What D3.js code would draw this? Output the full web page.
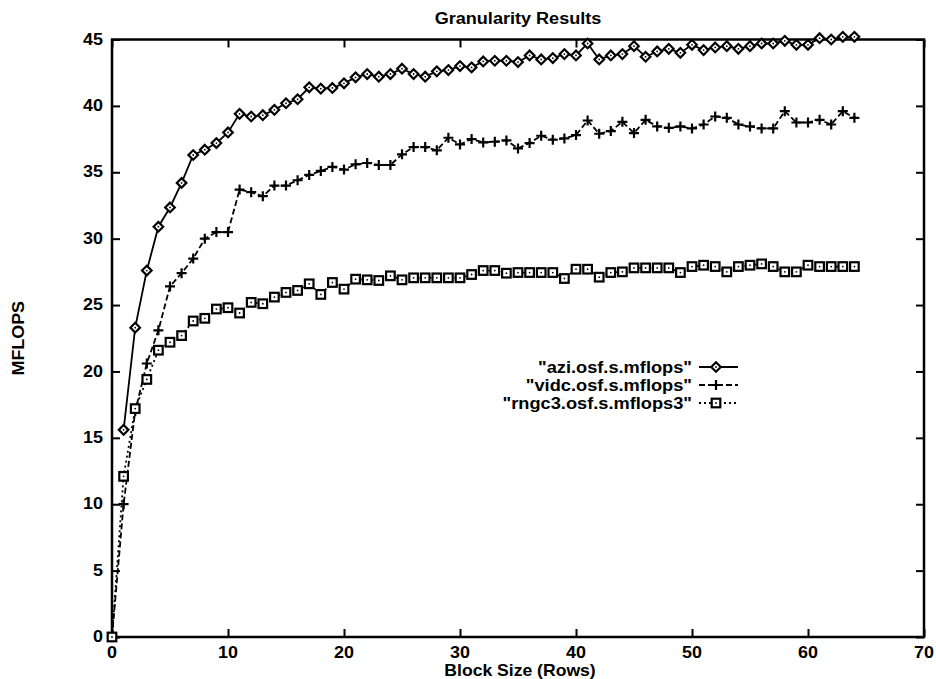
<!DOCTYPE html>
<html><head><meta charset="utf-8">
<script src="https://cdn.jsdelivr.net/npm/d3@7/dist/d3.min.js"></script>
<style>
html,body{margin:0;padding:0;background:#fff;}
svg{display:block;}
text{font-family:"Liberation Sans",Arial,Helvetica,sans-serif;font-weight:bold;fill:#000;}
</style></head>
<body>
<svg id="chart" width="936" height="679"></svg>
<script>
const blockSize = [0,1,2,3,4,5,6,7,8,9,10,11,12,13,14,15,16,17,18,19,20,21,22,23,24,25,26,27,28,29,30,31,32,33,34,35,36,37,38,39,40,41,42,43,44,45,46,47,48,49,50,51,52,53,54,55,56,57,58,59,60,61,62,63,64];
const azi = [null,15.6,23.3,27.6,30.9,32.35,34.2,36.3,36.7,37.2,38.0,39.4,39.2,39.3,39.7,40.2,40.5,41.4,41.3,41.35,41.7,42.15,42.4,42.2,42.4,42.8,42.4,42.2,42.6,42.7,43.0,42.9,43.35,43.4,43.4,43.3,43.8,43.5,43.6,43.9,43.8,44.7,43.5,43.8,43.9,44.5,43.7,44.1,44.3,44.0,44.6,44.2,44.4,44.5,44.3,44.5,44.7,44.7,44.9,44.6,44.6,45.1,45.0,45.2,45.2];
const vidc = [0,10.0,17.0,20.6,23.1,26.4,27.4,28.5,30.0,30.5,30.5,33.7,33.5,33.2,34.0,34.0,34.4,34.8,35.1,35.4,35.2,35.6,35.7,35.55,35.55,36.35,36.9,36.9,36.65,37.6,37.1,37.5,37.25,37.3,37.4,36.8,37.2,37.75,37.45,37.55,37.8,38.9,37.9,38.1,38.8,37.95,38.95,38.45,38.35,38.45,38.3,38.6,39.2,39.1,38.6,38.45,38.3,38.3,39.6,38.75,38.75,38.95,38.6,39.6,39.1];
const rngc3 = [0,12.1,17.2,19.4,21.6,22.2,22.7,23.8,24.0,24.7,24.8,24.4,25.2,25.1,25.6,25.95,26.1,26.6,25.8,26.7,26.2,26.95,26.9,26.85,27.2,26.9,27.05,27.05,27.05,27.05,27.05,27.3,27.6,27.6,27.4,27.45,27.45,27.45,27.45,27.0,27.7,27.7,27.1,27.45,27.5,27.8,27.8,27.8,27.8,27.45,27.9,28.0,27.9,27.5,27.9,28.0,28.1,27.9,27.5,27.5,28.0,27.9,27.9,27.9,27.9];
const seriesNames = ['"azi.osf.s.mflops"','"vidc.osf.s.mflops"','"rngc3.osf.s.mflops3"'];
const xTicks = [0,10,20,30,40,50,60,70];
const yTicks = [0,5,10,15,20,25,30,35,40,45];
const title = "Granularity Results";
const xLabel = "Block Size (Rows)";
const yLabel = "MFLOPS";

const svg = d3.select("#chart");
const L = 112, R = 924, T = 39.5, B = 637;
const x = d3.scaleLinear().domain([0,70]).range([L,R]);
const y = d3.scaleLinear().domain([0,45]).range([B,T]);

function txt(px, py, s, anchor, size, sx, rot) {
  const g = svg.append("g").attr("transform", `translate(${px},${py})` + (rot ? ` rotate(${rot})` : "") + ` scale(${sx},1)`);
  g.append("text").attr("text-anchor", anchor).attr("dominant-baseline", "central")
    .style("font-size", size + "px").text(s);
  return g;
}

// axes with inward ticks on all sides
const tl = 8;
svg.append("g").attr("transform", `translate(0,${B})`)
  .call(d3.axisBottom(x).tickValues(xTicks).tickSize(-tl).tickFormat(""))
  .call(g => g.select(".domain").remove());
svg.append("g").attr("transform", `translate(0,${T})`)
  .call(d3.axisTop(x).tickValues(xTicks).tickSize(-tl).tickFormat(""))
  .call(g => g.select(".domain").remove());
svg.append("g").attr("transform", `translate(${L},0)`)
  .call(d3.axisLeft(y).tickValues(yTicks).tickSize(-tl).tickFormat(""))
  .call(g => g.select(".domain").remove());
svg.append("g").attr("transform", `translate(${R},0)`)
  .call(d3.axisRight(y).tickValues(yTicks).tickSize(-tl).tickFormat(""))
  .call(g => g.select(".domain").remove());
svg.selectAll(".tick line").attr("stroke", "#000").attr("stroke-width", 2);

// frame
svg.append("rect").attr("x", L).attr("y", T).attr("width", R - L).attr("height", B - T)
  .attr("fill", "none").attr("stroke", "#000").attr("stroke-width", 2.5);

// tick labels
xTicks.forEach(v => txt(x(v), B + 16, String(v), "middle", 16, 1.12));
yTicks.forEach(v => txt(L - 9, y(v), String(v), "end", 16, 1.12));

// titles
txt((L + R) / 2, 19, title, "middle", 16, 1.13);
txt((L + R) / 2 + 2, 671, xLabel, "middle", 16, 1.1);
txt(19, (T + B) / 2, yLabel, "middle", 16, 1.12, -90);

// series
const styles = [
  {data: azi, dash: null, marker: "diamond"},
  {data: vidc, dash: "6,3", marker: "plus"},
  {data: rngc3, dash: "2,3", marker: "square"}
];

function drawMarker(g, type, cx, cy) {
  if (type === "diamond") {
    const s = 4.8;
    g.append("path").attr("d", `M${cx},${cy - s}L${cx + s},${cy}L${cx},${cy + s}L${cx - s},${cy}Z`)
      .attr("fill", "#fff").attr("stroke", "#000").attr("stroke-width", 2.2);
    g.append("circle").attr("cx", cx).attr("cy", cy).attr("r", 0.9).attr("fill", "#000");
  } else if (type === "plus") {
    const s = 5;
    g.append("path").attr("d", `M${cx - s},${cy}H${cx + s}M${cx},${cy - s}V${cy + s}`)
      .attr("stroke", "#000").attr("stroke-width", 2.2).attr("fill", "none");
  } else {
    const s = 4.3;
    g.append("rect").attr("x", cx - s).attr("y", cy - s).attr("width", 2 * s).attr("height", 2 * s)
      .attr("fill", "#fff").attr("stroke", "#000").attr("stroke-width", 2.2);
    g.append("circle").attr("cx", cx).attr("cy", cy).attr("r", 0.9).attr("fill", "#000");
  }
}

styles.forEach(st => {
  const pts = blockSize.map((b, i) => ({b, v: st.data[i]})).filter(d => d.v !== null);
  const line = d3.line().x(d => x(d.b)).y(d => y(d.v));
  svg.append("path").datum(pts).attr("d", line).attr("fill", "none")
    .attr("stroke", "#000").attr("stroke-width", 1.8)
    .attr("stroke-dasharray", st.dash);
});
styles.forEach(st => {
  const g = svg.append("g");
  blockSize.forEach((b, i) => {
    const v = st.data[i];
    if (v === null) return;
    drawMarker(g, st.marker, x(b), y(v));
  });
});

// legend
const legY = [367, 385, 403];
styles.forEach((st, i) => {
  txt(692, legY[i], seriesNames[i], "end", 16, 1.14);
  svg.append("line").attr("x1", 699).attr("x2", 738).attr("y1", legY[i]).attr("y2", legY[i])
    .attr("stroke", "#000").attr("stroke-width", 1.8).attr("stroke-dasharray", st.dash);
  drawMarker(svg.append("g"), st.marker, 716, legY[i]);
});
</script>
</body></html>
